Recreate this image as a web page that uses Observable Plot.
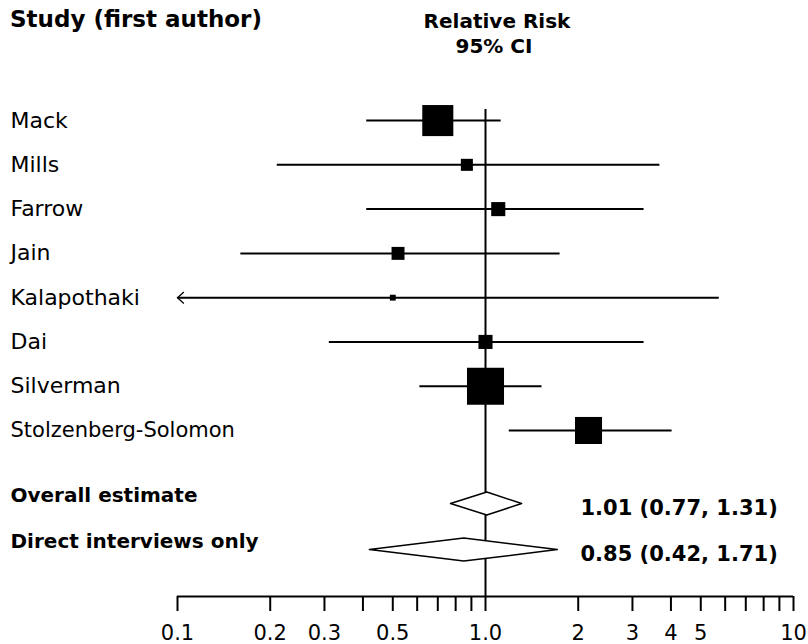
<!DOCTYPE html>
<html><head><meta charset="utf-8">
<script src="https://cdn.jsdelivr.net/npm/d3@7"></script>
<script src="https://cdn.jsdelivr.net/npm/@observablehq/plot@0.6"></script>
<style>
body{margin:0;background:#fff;}
#wrap{position:relative;width:808px;height:644px;overflow:hidden;font-family:"DejaVu Sans",Verdana,sans-serif;}
#wrap svg{display:block;}
.hdr{position:absolute;font-weight:bold;white-space:nowrap;color:#000;line-height:1;}
#wrap svg [aria-label="x-axis tick"] path, #wrap svg [aria-label="x-axis"] path{stroke-width:2;}
</style></head>
<body><div id="wrap"></div>
<script>
// ---- data ----
const studies = ["Mack","Mills","Farrow","Jain","Kalapothaki","Dai","Silverman","Stolzenberg-Solomon"];
const rr      = [0.70, 0.87, 1.10, 0.52, 0.50, 1.00, 1.00, 2.16];
const lower   = [0.41, 0.21, 0.41, 0.16, 0.044, 0.31, 0.61, 1.19];
const upper   = [1.12, 3.67, 3.26, 1.74, 5.72, 3.26, 1.52, 4.02];
const weight  = [25.3, 3.8, 5.2, 4.4, 0.9, 5.2, 36.0, 19.2];

const summaries = ["Overall estimate","Direct interviews only"];
const sumRR = [1.01, 0.85];
const sumLo = [0.77, 0.42];
const sumHi = [1.31, 1.71];

const tickValues = [0.1,0.2,0.3,0.4,0.5,0.6,0.7,0.8,0.9,1,2,3,4,5,6,7,8,9,10];
const tickLabelValues = [0.1,0.2,0.3,0.5,1,2,3,4,5,10];
const tickLabelText   = ["0.1","0.2","0.3","0.5","1.0","2","3","4","5","10"];

// ---- build tables ----
const xDomain = [0.1, 10];
const rows = studies.map((s,i)=>({study:s, rr:rr[i], lo:lower[i], hi:upper[i], w:weight[i], row:i}));
const sumRows = summaries.map((s,i)=>({name:s, rr:sumRR[i], lo:sumLo[i], hi:sumHi[i], row: studies.length + 0.65 + i*1.04}));
const yDomain = [-0.25, 10.75];
const tickLabels = new Map(tickLabelValues.map((v,i)=>[v, tickLabelText[i]]));
const f2 = d3.format(".2f");

const inside = rows.filter(d => d.lo >= xDomain[0]);
const clipped = rows.filter(d => d.lo < xDomain[0]);

const dh = 0.26;
const diamonds = sumRows.flatMap(d => [
  {name:d.name, x:d.lo, y:d.row},
  {name:d.name, x:d.rr, y:d.row - dh},
  {name:d.name, x:d.hi, y:d.row},
  {name:d.name, x:d.rr, y:d.row + dh},
  {name:d.name, x:d.lo, y:d.row}
]);

const chevron = {
  draw(ctx, size) {
    const s = Math.sqrt(size);
    ctx.moveTo(s*0.55, -s*0.5);
    ctx.lineTo(0, 0);
    ctx.lineTo(s*0.55, s*0.5);
  }
};

const plot = Plot.plot({
  width: 808, height: 644,
  marginLeft: 177, marginRight: 15, marginTop: 109, marginBottom: 48,
  style: {fontFamily: "DejaVu Sans, Verdana, sans-serif", fontSize: "21px", color: "black", background: "white"},
  x: {type: "log", domain: xDomain, ticks: tickValues, tickFormat: d => tickLabels.get(d) ?? "", tickSize: 15, tickPadding: 14, label: null},
  y: {type: "linear", domain: yDomain, reverse: true, axis: null},
  r: {type: "sqrt", domain: [0, 36], range: [0, 20.9]},
  marks: [
    Plot.ruleY([yDomain[1]], {x1: xDomain[0], x2: xDomain[1], stroke: "black", strokeWidth: 2}),
    Plot.ruleX([1], {stroke: "black", strokeWidth: 2}),
    Plot.link(inside, {x1: "lo", x2: "hi", y1: "row", y2: "row", stroke: "black", strokeWidth: 2}),
    Plot.link(clipped, {x1: () => xDomain[0], x2: "hi", y1: "row", y2: "row", stroke: "black", strokeWidth: 2}),
    Plot.dot(clipped, {x: () => xDomain[0], y: "row", symbol: chevron, r: 6.5, fill: "none", stroke: "black", strokeWidth: 1.3}),
    Plot.dot(rows, {x: "rr", y: "row", r: "w", symbol: "square", fill: "black", stroke: "none"}),
    Plot.line(diamonds, {x: "x", y: "y", z: "name", stroke: "black", fill: "white", strokeWidth: 1.5}),
    Plot.text(rows, {y: "row", text: "study", frameAnchor: "left", dx: -167, textAnchor: "start", fill: "black",
      fontSize: d => d.study.length > 15 ? 21 : 22}),
    Plot.text(sumRows, {y: "row", text: "name", frameAnchor: "left", dx: -167, dy: -8, textAnchor: "start", fill: "black",
      fontWeight: "bold", fontSize: 20}),
    Plot.text(sumRows, {y: "row", text: d => `${f2(d.rr)} (${f2(d.lo)}, ${f2(d.hi)})`, frameAnchor: "left", dx: 403, dy: 5,
      textAnchor: "start", fill: "black", fontWeight: "bold", fontSize: 21})
  ]
});

const wrap = document.getElementById("wrap");
wrap.appendChild(plot);

function hdr(text, css) {
  const d = document.createElement("div");
  d.className = "hdr";
  d.textContent = text;
  Object.assign(d.style, css);
  wrap.appendChild(d);
}
hdr("Study (first author)", {left: "10px", top: "8px", fontSize: "23px"});
hdr("Relative Risk", {left: "397px", width: "200px", textAlign: "center", top: "11px", fontSize: "20px"});
hdr("95% CI", {left: "394px", width: "200px", textAlign: "center", top: "36px", fontSize: "20px"});
</script>
</body></html>
